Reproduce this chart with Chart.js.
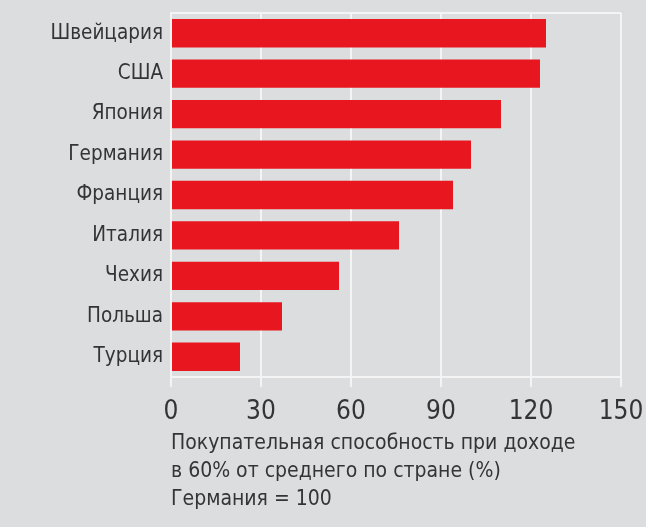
<!DOCTYPE html>
<html>
<head>
<meta charset="utf-8">
<script src="https://cdn.jsdelivr.net/npm/chart.js@4/dist/chart.umd.min.js"></script>
<style>
  html, body { margin: 0; padding: 0; background: #dcdddf; }
  #wrap { width: 646px; height: 527px; position: relative; }
</style>
</head>
<body>
<div id="wrap"><canvas id="c" width="646" height="527"></canvas></div>
<script>
const categories = ["Швейцария", "США", "Япония", "Германия", "Франция", "Италия", "Чехия", "Польша", "Турция"];
const values = [125, 123, 110, 100, 94, 76, 56, 37, 23];
const tickValues = [0, 30, 60, 90, 120, 150];
const axisTitle = ["Покупательная способность при доходе", "в 60% от среднего по стране (%)", "Германия = 100"];

const FONT = "'DejaVu Sans Condensed', 'Liberation Sans Narrow', sans-serif";
const TEXT = "#343436";
const LINE = "#f4f4f4";

const frame = {
  id: 'frame',
  beforeDatasetsDraw(chart) {
    const a = chart.chartArea, ctx = chart.ctx;
    ctx.save();
    ctx.strokeStyle = LINE;
    ctx.lineWidth = 2;
    ctx.beginPath();
    ctx.moveTo(a.left, a.top);
    ctx.lineTo(a.right, a.top);
    ctx.stroke();
    ctx.restore();
  }
};

function build() {
  new Chart(document.getElementById('c'), {
    type: 'bar',
    data: {
      labels: categories,
      datasets: [{
        data: values,
        backgroundColor: '#e8161f',
        borderWidth: 0,
        barPercentage: 0.7,
        categoryPercentage: 1.0
      }]
    },
    options: {
      indexAxis: 'y',
      responsive: false,
      animation: false,
      layout: { padding: { top: 13, right: 25, left: 0, bottom: 0 } },
      plugins: { legend: { display: false }, tooltip: { enabled: false } },
      scales: {
        x: {
          min: 0, max: 150,
          afterBuildTicks(scale) { scale.ticks = tickValues.map(v => ({ value: v })); },
          afterFit(scale) { scale.height = 150; scale.paddingLeft = 0; scale.paddingRight = 0; },
          grid: { color: LINE, lineWidth: 2, drawTicks: true, tickLength: 10, tickColor: LINE },
          border: { color: LINE, width: 2 },
          ticks: { color: TEXT, font: { family: FONT, size: 26 }, padding: 10, maxRotation: 0 },
          title: {
            display: true, text: axisTitle, align: 'start',
            color: TEXT, font: { family: FONT, size: 21, lineHeight: 1.333 },
            padding: { top: 0, bottom: 13 }
          }
        },
        y: {
          afterFit(scale) { scale.width = 171; scale.paddingTop = 0; scale.paddingBottom = 0; },
          grid: { display: false, drawTicks: false },
          border: { color: LINE, width: 2 },
          ticks: { color: TEXT, font: { family: FONT, size: 20.5 }, padding: 8 }
        }
      }
    },
    plugins: [frame]
  });
}

document.fonts.load("20px 'DejaVu Sans Condensed'", "Швейцария 0123").catch(() => {}).then(build);
</script>
</body>
</html>
